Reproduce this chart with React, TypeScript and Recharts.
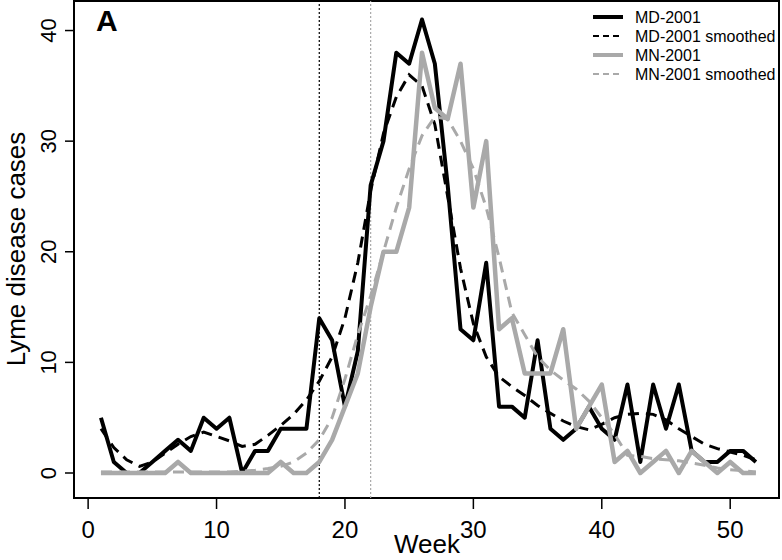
import React from 'react';
import { LineChart, Line, XAxis, YAxis, ReferenceLine, ReferenceArea } from 'recharts';

// weekly Lyme disease cases, 2001
const weeks = [
  1, 2, 3, 4, 5, 6, 7, 8, 9, 10, 11, 12, 13, 14, 15, 16, 17, 18, 19, 20, 21, 22, 23, 24, 25, 26,
  27, 28, 29, 30, 31, 32, 33, 34, 35, 36, 37, 38, 39, 40, 41, 42, 43, 44, 45, 46, 47, 48, 49, 50, 51, 52,
];
const mdCases = [
  5, 1, 0, 0, 1, 2, 3, 2, 5, 4, 5, 0, 2, 2, 4, 4, 4, 14, 12, 6, 11, 26, 30, 38, 37, 41,
  37, 26, 13, 12, 19, 6, 6, 5, 12, 4, 3, 4, 6, 4, 3, 8, 1, 8, 4, 8, 2, 1, 1, 2, 2, 1,
];
const mdSmoothed = [
  4.0, 2.3, 1.2, 0.6, 1.0, 1.8, 2.6, 3.3, 3.7, 3.3, 2.9, 2.4, 2.6, 3.4, 4.3, 5.3, 6.6, 8.3, 10.5, 14.0,
  19.0, 25.5, 30.7, 34.0, 36.0, 35.0, 31.5, 25.0, 18.5, 13.5, 10.5, 8.7, 7.8, 7.0, 6.1, 5.4, 4.7, 4.2,
  3.9, 4.4, 5.0, 5.3, 5.4, 5.3, 4.8, 4.0, 3.3, 2.6, 2.2, 1.9, 1.6, 1.2,
];
const mnCases = [
  0, 0, 0, 0, 0, 0, 1, 0, 0, 0, 0, 0, 0, 0, 1, 0, 0, 1, 3, 6, 9, 15, 20, 20, 24, 38,
  33, 32, 37, 24, 30, 13, 14, 9, 9, 9, 13, 4, 6, 8, 1, 2, 0, 1, 2, 0, 2, 1, 0, 1, 0, 0,
];
const mnSmoothed = [
  0.1, 0.1, 0.1, 0.1, 0.1, 0.1, 0.1, 0.1, 0.1, 0.1, 0.1, 0.15, 0.25, 0.4, 0.6, 1.0, 1.8, 3.0, 5.0, 8.5,
  12.5, 16.0, 20.0, 24.0, 27.5, 30.5, 32.2, 32.0, 30.0, 27.5, 24.0, 19.5, 14.5, 12.5, 10.5, 9.3, 8.4,
  7.6, 6.5, 5.0, 3.5, 1.6, 1.5, 1.3, 1.2, 1.1, 0.9, 0.7, 0.45, 0.3, 0.2, 0.1,
];
const xTicks = [0, 10, 20, 30, 40, 50];
const yTicks = [0, 10, 20, 30, 40];
const legendLabels = ['MD-2001', 'MD-2001 smoothed', 'MN-2001', 'MN-2001 smoothed'];

const data = weeks.map((w, i) => ({
  week: w,
  md: mdCases[i],
  mdSmooth: mdSmoothed[i],
  mn: mnCases[i],
  mnSmooth: mnSmoothed[i],
}));

const FONT = '"Liberation Sans", Arial, Helvetica, sans-serif';
const GRAY = '#a9a9a9';
const X_DOMAIN: [number, number] = [-1.1, 53.8];
const Y_DOMAIN: [number, number] = [-2.26, 42.67];

const XTick = ({ x, y, payload }: any) => (
  <text x={x} y={y} dy="0.71em" textAnchor="middle" fontSize={24} fontFamily={FONT} fill="#000">
    {payload.value}
  </text>
);

const YTick = ({ x, y, payload }: any) => (
  <text
    transform={`translate(${x - 9},${y}) rotate(-90)`}
    textAnchor="middle"
    fontSize={22}
    fontFamily={FONT}
    fill="#000"
  >
    {payload.value}
  </text>
);

const legendStyles = [
  { stroke: '#000', dash: undefined, width: 4 },
  { stroke: '#000', dash: '6 4', width: 2 },
  { stroke: GRAY, dash: undefined, width: 4 },
  { stroke: GRAY, dash: '6 4', width: 2 },
];

export default function App() {
  return (
    <div style={{ position: 'absolute', left: 0, top: 0, width: 782, height: 560, background: '#fff' }}>
      <LineChart width={782} height={560} data={data} margin={{ top: 1, right: 3, bottom: 0, left: 0 }}>
        <XAxis
          dataKey="week"
          type="number"
          domain={X_DOMAIN}
          ticks={xTicks}
          allowDataOverflow
          axisLine={false}
          tickLine={{ stroke: '#000', strokeWidth: 1.5 }}
          tickSize={11}
          tickMargin={12}
          tick={<XTick />}
          height={62}
          interval={0}
        />
        <YAxis
          type="number"
          domain={Y_DOMAIN}
          ticks={yTicks}
          allowDataOverflow
          axisLine={false}
          tickLine={{ stroke: '#000', strokeWidth: 1.5 }}
          tickSize={9}
          tickMargin={0}
          tick={<YTick />}
          width={74}
          interval={0}
        />
        <ReferenceArea
          x1={X_DOMAIN[0]}
          x2={X_DOMAIN[1]}
          y1={Y_DOMAIN[0]}
          y2={Y_DOMAIN[1]}
          fill="none"
          fillOpacity={0}
          stroke="#000"
          strokeWidth={2}
        />
        <ReferenceLine x={18} stroke="#000" strokeWidth={1.2} strokeDasharray="2 2" />
        <ReferenceLine x={22} stroke={GRAY} strokeWidth={1.2} strokeDasharray="2 2" />
        <Line
          dataKey="md"
          stroke="#000"
          strokeWidth={4}
          dot={false}
          strokeLinejoin="round"
          isAnimationActive={false}
        />
        <Line
          dataKey="mdSmooth"
          stroke="#000"
          strokeWidth={3}
          strokeDasharray="11 7"
          dot={false}
          isAnimationActive={false}
        />
        <Line
          dataKey="mn"
          stroke={GRAY}
          strokeWidth={4.5}
          dot={false}
          strokeLinejoin="round"
          isAnimationActive={false}
        />
        <Line
          dataKey="mnSmooth"
          stroke={GRAY}
          strokeWidth={3}
          strokeDasharray="11 7"
          dot={false}
          isAnimationActive={false}
        />
      </LineChart>
      <svg
        width={782}
        height={560}
        style={{ position: 'absolute', left: 0, top: 0, pointerEvents: 'none' }}
        fontFamily={FONT}
      >
        <text x={96} y={31} fontSize={30} fontWeight="bold">A</text>
        <text x={427} y={553} fontSize={26} textAnchor="middle">Week</text>
        <text transform="translate(25,249) rotate(-90)" fontSize={26} textAnchor="middle">
          Lyme disease cases
        </text>
        {legendLabels.map((label, i) => {
          const y = 17 + i * 19;
          const s = legendStyles[i];
          return (
            <g key={label}>
              <line x1={593} x2={623} y1={y} y2={y} stroke={s.stroke} strokeWidth={s.width} strokeDasharray={s.dash} />
              <text x={635} y={y} dy="0.35em" fontSize={16}>{label}</text>
            </g>
          );
        })}
      </svg>
    </div>
  );
}
